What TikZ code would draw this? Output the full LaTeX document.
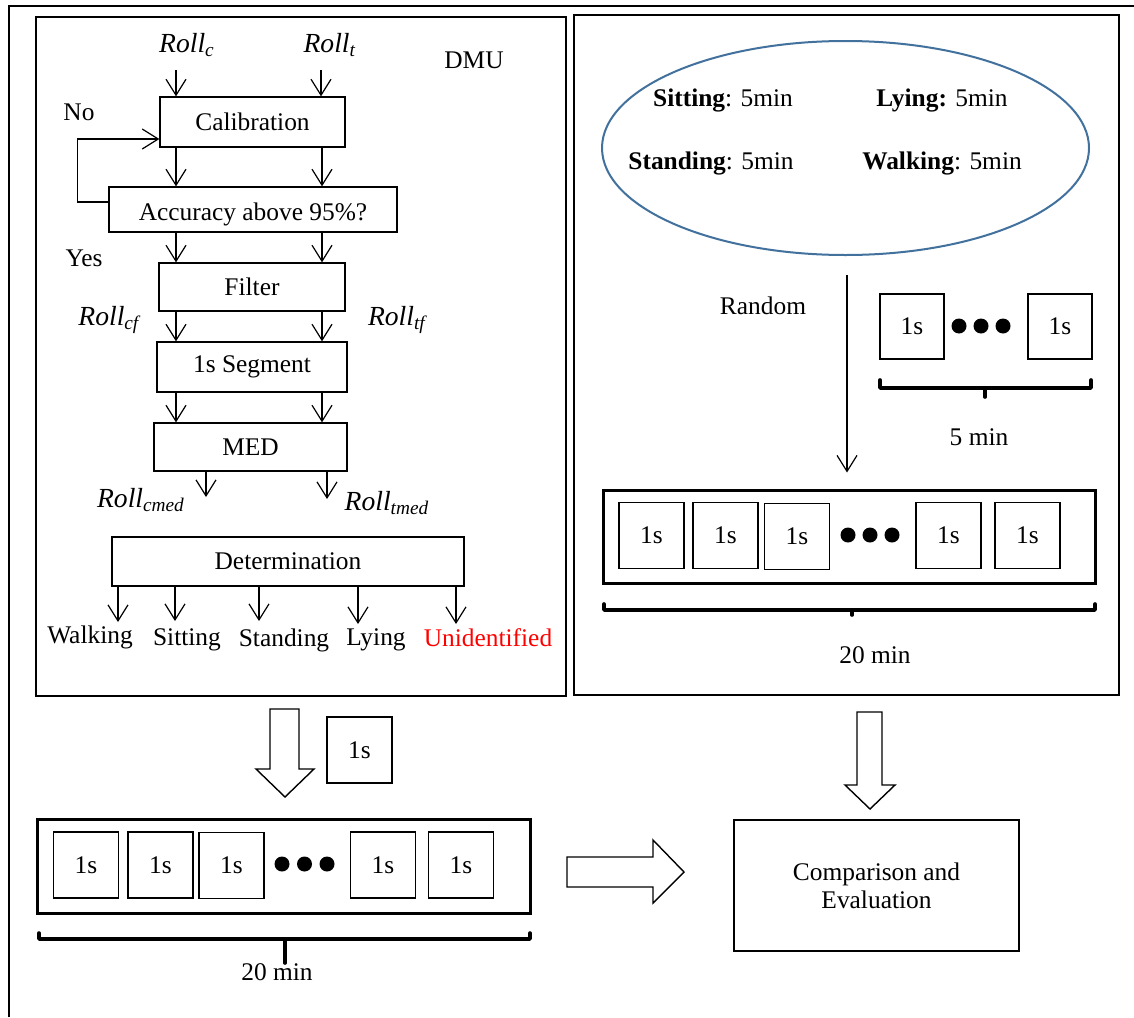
\documentclass[tikz,border=0pt]{standalone}
\usepackage{fontspec}
\setmainfont{Liberation Serif}
\usetikzlibrary{arrows.meta,shapes.geometric}
\definecolor{ellblue}{RGB}{65,113,156}
\newcommand\rollsub[1]{\textit{Roll}\textsubscript{\textit{#1}}}
\begin{document}
\begin{tikzpicture}[x=0.5pt,y=-0.5pt,
  txt/.style={font=\fontsize{12.7}{15}\selectfont, inner sep=1pt},
  rl/.style={font=\fontsize{13.8}{16}\selectfont, inner sep=1pt},
  box/.style={draw, line width=0.65pt, inner sep=0pt, font=\fontsize{12.7}{15}\selectfont},
  panel/.style={draw, line width=0.7pt, inner sep=0pt},
  arr/.style={line width=0.6pt, -{Straight Barb[length=8pt,width=10pt]}},
  sq/.style={draw, line width=0.9pt, minimum width=32.5pt, minimum height=33pt, inner sep=0pt, font=\fontsize{12.7}{15}\selectfont},
  seq/.style={draw, line width=1.5pt, inner sep=0pt},
  dot/.style={circle, fill, inner sep=0pt, minimum size=7.5pt},
  brk/.style={draw, line width=1.8pt, line cap=round, line join=round},
  hollow/.style={draw, line width=0.7pt, fill=white, line join=miter},
  frame/.style={line width=1pt}
  ]
\useasboundingbox (0,0) rectangle (1134,1017);
\fill[white] (0,0) rectangle (1134,1017);
% outer frame
\draw[frame] (8.5,1017) -- (8.5,6) -- (1134,6);
% panels
\node[panel, minimum width=265pt, minimum height=339.5pt] (lp) at (301,356.5) {};
\node[panel, minimum width=272.5pt, minimum height=340pt] (rp) at (846.5,355) {};

% ---------- left flowchart ----------
\node[rl] (rc) at (187,45) {\rollsub{c}};
\node[rl] (rt) at (330,45) {\rollsub{t}};
\node[txt] (dmu) at (474,60) {DMU};
\node[box, minimum width=92.5pt, minimum height=25pt] (cal) at (252.5,122) {Calibration};
\node[txt] (no) at (79,112) {No};
\node[box, minimum width=144pt, minimum height=22.5pt] (acc) at (253,209.5) {\raisebox{-5.25pt}[0pt][0pt]{Accuracy above 95\%?}};
\node[txt] (yes) at (84,258) {Yes};
\node[box, minimum width=93pt, minimum height=24pt] (fil) at (252,287) {Filter};
\node[rl] (rcf) at (110,320) {\rollsub{cf}};
\node[rl] (rtf) at (398,320) {\rollsub{tf}};
\node[box, minimum width=95pt, minimum height=25pt] (seg) at (252,367) {1s Segment};
\node[box, minimum width=96.5pt, minimum height=24pt] (med) at (250.5,447) {MED};
\node[rl] (rcm) at (141,500) {\rollsub{cmed}};
\node[rl] (rtm) at (387,503) {\rollsub{tmed}};
\node[box, minimum width=176pt, minimum height=24.5pt] (det) at (288,561.5) {Determination};
\node[txt] (walk) at (90,637) {Walking};
\node[txt] (sit) at (187,640) {Sitting};
\node[txt] (stand) at (284,640) {Standing};
\node[txt] (lie) at (376,640) {Lying};
\node[txt, text=red] (unid) at (488,638) {Unidentified};

\coordinate (cL) at (176,0);
\coordinate (cR) at (322,0);
\coordinate (in1) at (176,70);
\coordinate (in2) at (321,70);
\draw[arr] (in1) -- (cal.north -| in1);
\draw[arr] (in2) -- (cal.north -| in2);
\draw[arr] (cal.south -| cL) -- (acc.north -| cL);
\draw[arr] (cal.south -| cR) -- (acc.north -| cR);
\draw[arr] (acc.south -| cL) -- (fil.north -| cL);
\draw[arr] (acc.south -| cR) -- (fil.north -| cR);
\draw[arr] (fil.south -| cL) -- (seg.north -| cL);
\draw[arr] (fil.south -| cR) -- (seg.north -| cR);
\draw[arr] (seg.south -| cL) -- (med.north -| cL);
\draw[arr] (seg.south -| cR) -- (med.north -| cR);
% feedback loop
\draw[arr] ([yshift=3.75pt]acc.west) -- ++(-31,0) |- ([yshift=-8.5pt]cal.west);
% MED outputs
\coordinate (mo1) at (206,497);
\coordinate (mo2) at (327,499);
\draw[arr] (med.south -| mo1) -- (mo1);
\draw[arr] (med.south -| mo2) -- (mo2);
% determination outputs
\coordinate (o1) at (118,622);
\coordinate (o2) at (175,621);
\coordinate (o3) at (259,621);
\coordinate (o4) at (358,624);
\coordinate (o5) at (456,624);
\foreach \o in {o1,o2,o3,o4,o5} {\draw[arr] (det.south -| \o) -- (\o);}

% ---------- right panel ----------
\node[draw=ellblue, line width=1pt, ellipse, minimum width=243.5pt, minimum height=107pt, inner sep=0pt] (ell) at (845.5,148) {};
\node[txt] (esit) at (723,100) {\textbf{Sitting}: 5min};
\node[txt] (elie) at (942,100) {\textbf{Lying:} 5min};
\node[txt] (estand) at (711,163) {\textbf{Standing}: 5min};
\node[txt] (ewalk) at (942,163) {\textbf{Walking}: 5min};
\node[txt] (rand) at (763,306) {Random};

\node[sq, minimum width=32pt, minimum height=32.5pt] (s1) at (912,326.5) {1s};
\node[dot] (sd1) at (959,326) {};
\node[dot] (sd2) at (981,326) {};
\node[dot] (sd3) at (1003,326) {};
\node[sq, minimum width=32pt, minimum height=32.5pt] (s2) at (1060,326.5) {1s};
\path[brk] (880,380) -- (880,388) -- (1091,388) -- (1091,380);
\path[brk] (985,388) -- (985,397);
\node[txt] (five) at (979,437) {5 min};

\node[seq, minimum width=246pt, minimum height=46.5pt] (seqR) at (849,536.5) {};
\node[sq] (r1) at (651.5,535.5) {1s};
\node[sq] (r2) at (725.5,535.5) {1s};
\node[sq] (r3) at (797,536.5) {1s};
\node[dot] (rd1) at (848,535) {};
\node[dot] (rd2) at (870,535) {};
\node[dot] (rd3) at (892,535) {};
\node[sq] (r4) at (948.5,535.5) {1s};
\node[sq] (r5) at (1027.5,535.5) {1s};
\path[brk] (604,604) -- (604,610) -- (1095,610) -- (1095,604);
\path[brk] (852,610) -- (852,615);
\node[txt] (twentyR) at (875,655) {20 min};

\coordinate (rtop) at (847,275);
\draw[arr, shorten >=8pt] (rtop) -- (seqR.north -| rtop);

% ---------- bottom ----------
\draw[hollow] (270,709) -- (299,709) -- (299,769) -- (314,769) -- (285,797) -- (256,769) -- (270,769) -- cycle;
\node[sq] (one) at (359.5,750) {1s};

\node[seq, minimum width=246.25pt, minimum height=47pt] (seqL) at (283.75,866) {};
\node[sq] (l1) at (86,865) {1s};
\node[sq] (l2) at (160.5,865) {1s};
\node[sq] (l3) at (231.5,865.5) {1s};
\node[dot] (ld1) at (282,864) {};
\node[dot] (ld2) at (304.5,864) {};
\node[dot] (ld3) at (327,864) {};
\node[sq] (l4) at (383,865) {1s};
\node[sq] (l5) at (461,865) {1s};
\path[brk] (39,933) -- (39,939) -- (530,939) -- (530,933);
\path[brk] (285,939) -- (285,963);
\node[txt] (twentyL) at (277,972) {20 min};

\draw[hollow] (567,857) -- (653,857) -- (653,840) -- (684,872) -- (653,903) -- (653,887) -- (567,887) -- cycle;
\draw[hollow] (857,712) -- (882,712) -- (882,785) -- (895,785) -- (870,809) -- (845,785) -- (857,785) -- cycle;

\node[box, minimum width=142.5pt, minimum height=65.5pt, align=center, font=\fontsize{12.7}{14}\selectfont] (cmp) at (876.5,885.5) {Comparison and\\Evaluation};
\end{tikzpicture}
\end{document}
